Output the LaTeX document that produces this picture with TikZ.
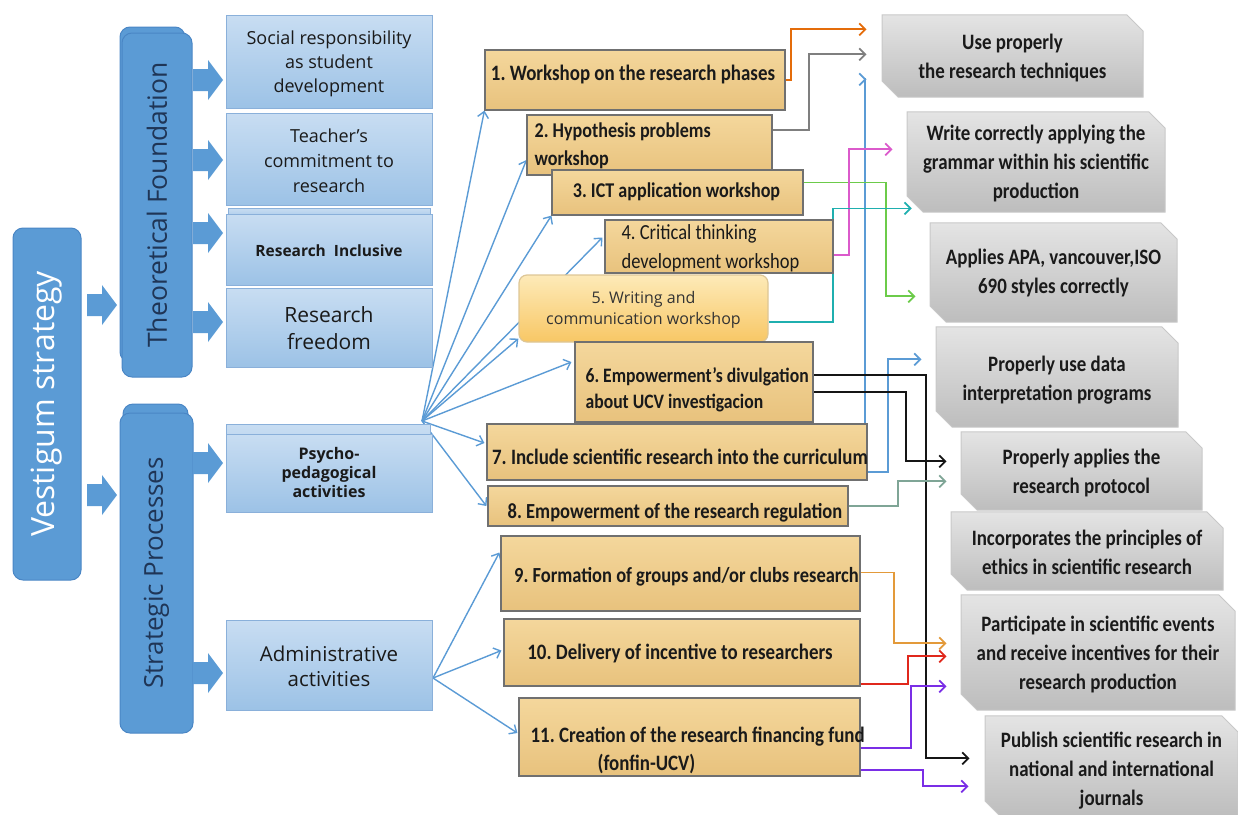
\documentclass[tikz,border=0pt]{standalone}
\usepackage{fontspec}
\setmainfont{Carlito}[FakeStretch=0.86]
\newfontfamily\osans{Open Sans}
\usetikzlibrary{shapes.misc,arrows.meta,fit,backgrounds,calc}
\frenchspacing
\definecolor{vblue}{HTML}{5B9BD5}
\definecolor{vblueD}{HTML}{4A86C5}
\definecolor{tfText}{HTML}{1F3556}
\definecolor{lbT}{HTML}{C8DDF2}
\definecolor{lbB}{HTML}{9CC2E6}
\definecolor{lbD}{HTML}{8AB0DA}
\definecolor{tanT}{HTML}{F4D79C}
\definecolor{tanB}{HTML}{E8C27D}
\definecolor{tanD}{HTML}{707070}
\definecolor{ylT}{HTML}{FDEAB8}
\definecolor{ylB}{HTML}{F8C765}
\definecolor{gT}{HTML}{E4E4E4}
\definecolor{gB}{HTML}{BDBDBD}
\definecolor{gD}{HTML}{C8C8C8}
\definecolor{txt}{HTML}{1A1A1A}
\definecolor{cOrange}{HTML}{E46C0A}
\definecolor{cGrey}{HTML}{7F7F7F}
\definecolor{cBlue}{HTML}{5B9BD5}
\definecolor{cPink}{HTML}{DB5ACB}
\definecolor{cGreen}{HTML}{6CCB4A}
\definecolor{cTeal}{HTML}{1FAFAF}
\definecolor{cBlack}{HTML}{151515}
\definecolor{cSage}{HTML}{7FA596}
\definecolor{cAmber}{HTML}{E39A3A}
\definecolor{cRed}{HTML}{E0281C}
\definecolor{cPurple}{HTML}{7A2EE6}
\newcommand\ns{\spaceskip=0pt\xspaceskip=0pt\relax}
\newcommand\barrow[2]{\fill[vblue] ({#1-15},{#2-11}) -- ({#1},{#2-11}) -- ({#1},{#2-20}) -- ({#1+15},{#2}) -- ({#1},{#2+20}) -- ({#1},{#2+11}) -- ({#1-15},{#2+11}) -- cycle;}
\begin{document}
\begin{tikzpicture}[x=1pt,y=-1pt,
  bigbox/.style={draw=vblueD, line width=1pt, fill=vblue, rounded corners=10pt, inner sep=0pt},
  lbox/.style={draw=lbD, line width=1pt, top color=lbT, bottom color=lbB, inner sep=0pt},
  ltext/.style={inner sep=0pt, align=center, text=txt, font=\osans\fontsize{18}{24}\selectfont},
  wbox/.style={draw=tanD, line width=1.2pt, top color=tanT, bottom color=tanB, inner sep=0pt},
  wtext/.style={inner sep=0pt, align=center, text=txt, font=\bfseries\fontsize{22}{28}\selectfont},
  obox/.style={chamfered rectangle, chamfered rectangle corners={north east,south west}, chamfered rectangle angle=45, chamfered rectangle xsep=13pt, draw=gD, line width=1pt, top color=gT, bottom color=gB, inner sep=0pt},
  otext/.style={inner sep=0pt, align=center, text=txt, font=\bfseries\fontsize{22}{29}\selectfont},
  conn/.style={line width=1.8pt, -{Straight Barb[length=6pt,width=12pt]}},
  fan/.style={draw=cBlue, line width=1.4pt, -{Straight Barb[length=6pt,width=11pt]}}]
\useasboundingbox (0,0) rectangle (1238,814);
% ---------- left column
\node[bigbox, fit={(13,228)(81,580)}] (vs) {};
\node[rotate=90, text=white, font=\osans\fontsize{32}{34}\selectfont] (vst) at (vs.center) {Vestigum strategy};
\node[bigbox, fit={(120,27)(185,362)}] (tfb) {};
\node[bigbox, fit={(122,33)(192,377)}] (tf) {};
\node[rotate=90, text=tfText, font=\osans\fontsize{26.5}{28}\selectfont] (tft) at (tf.center) {Theoretical Foundation};
\node[bigbox, fit={(123,404)(188,720)}] (spb) {};
\node[bigbox, fit={(120,413)(193,733)}] (sp) {};
\node[rotate=90, text=tfText, font=\osans\fontsize{26}{28}\selectfont] (spt) at (sp.center) {Strategic Processes};
\barrow{102}{305}
\barrow{102}{495}
\barrow{208}{80}
\barrow{208}{160}
\barrow{208}{233}
\barrow{208}{322}
\barrow{208}{463}
\barrow{208}{673}
% ---------- light blue boxes
\node[lbox, fit={(226,15)(432,108)}] (lb1) {};
\node[ltext] (lb1t) at ([yshift=-2pt]lb1.center) {Social responsibility\\as student\\development};
\node[lbox, fit={(226,113)(432,205)}] (lb2) {};
\node[ltext, font=\osans\fontsize{18}{25}\selectfont] (lb2t) at ([yshift=-2pt]lb2.center) {Teacher’s\\commitment to\\research};
\node[lbox, fit={(228,208)(430,222)}] (lb3b) {};
\node[lbox, fit={(226,214)(432,285)}] (lb3) {};
\node[ltext, font=\osans\bfseries\fontsize{15.5}{18}\selectfont] (lb3t) at ([yshift=-1pt]lb3.center) {Research\ \ Inclusive};
\node[lbox, fit={(226,288)(432,367)}] (lb4) {};
\node[ltext, font=\osans\fontsize{21}{27}\selectfont] (lb4t) at ([yshift=-1pt]lb4.center) {Research\\freedom};
\node[lbox, fit={(226,424)(430,506)}] (psyb) {};
\node[lbox, fit={(226,434)(432,512)}] (psy) {};
\node[ltext, font=\osans\bfseries\fontsize{16}{19}\selectfont] (psyt) at ([yshift=1pt]psy.center) {Psycho-\\pedagogical\\activities};
\node[lbox, fit={(226,620)(432,710)}] (adm) {};
\node[ltext, font=\osans\fontsize{20.5}{25}\selectfont] (admt) at ([yshift=-1.5pt]adm.center) {Administrative\\activities};
% ---------- workshop boxes
\node[wbox, fit={(485,50)(785,110)}] (w1) {};
\node[wtext] (w1t) at ([yshift=5pt,xshift=-2pt]w1.center) {1. Workshop on the research phases};
\node[wbox, fit={(527,115)(772,175)}] (w2) {};
\node[wtext, anchor=west, align=left, font=\bfseries\fontsize{21}{28}\selectfont] (w2t) at ([xshift=8pt,yshift=-1pt]w2.west) {\ns 2. Hypothesis problems\\workshop};
\node[wbox, fit={(552,170)(803,215)}] (w3) {};
\node[wtext, font=\bfseries\fontsize{21}{22}\selectfont] (w3t) at ([yshift=1pt,xshift=-1pt]w3.center) {3. ICT application workshop};
\node[wbox, fit={(605,220)(833,273)}] (w4) {};
\node[wtext, anchor=west, align=left, font=\fontsize{21.5}{29}\selectfont] (w4t) at ([xshift=17pt,yshift=-2pt]w4.west) {\ns 4. Critical thinking\\development workshop};
\node[wbox, fit={(519,275)(768,342)}, rounded corners=8pt, draw=ylB!80!black!60, top color=ylT, bottom color=ylB] (w5) {};
\node[wtext, font=\osans\fontsize{16}{21}\selectfont, text=black!80] (w5t) at ([yshift=-1pt]w5.center) {5. Writing and\\communication workshop};
\node[wbox, fit={(575,342)(813,422)}] (w6) {};
\node[wtext, anchor=west, align=left, font=\bfseries\fontsize{20.5}{26}\selectfont] (w6t) at ([xshift=11pt,yshift=-8pt]w6.west) {\ns 6. Empowerment's divulgation\\about UCV investigacion};
\node[wbox, fit={(487,424)(867,480)}] (w7) {};
\node[wtext] (w7t) at ([yshift=-5pt,xshift=3pt]w7.center) {7. Include scientific research into the curriculum};
\node[wbox, fit={(488,486)(848,526)}] (w8) {};
\node[wtext, font=\bfseries\fontsize{21.5}{24}\selectfont] (w8t) at ([yshift=-7pt,xshift=7pt]w8.center) {8. Empowerment of the research regulation};
\node[wbox, fit={(501,536)(860,611)}] (w9) {};
\node[wtext, font=\bfseries\fontsize{21.5}{24}\selectfont] (w9t) at ([yshift=-3pt,xshift=6pt]w9.center) {9. Formation of groups and/or clubs research};
\node[wbox, fit={(504,619)(860,686)}] (w10) {};
\node[wtext] (w10t) at ([yshift=-1pt,xshift=-2pt]w10.center) {10. Delivery of incentive to researchers};
\node[wbox, fit={(519,698)(860,776)}] (w11) {};
\node[wtext, anchor=west, align=left] (w11t) at ([xshift=12pt,yshift=-13pt]w11.west) {\ns 11. Creation of the research financing fund\\\hspace*{67pt}(fonfin-UCV)};
% ---------- outcome boxes
\node[obox, fit={(895,18)(1130,94)}] (o1) {};
\node[otext] (o1t) at ([yshift=-2pt]o1.center) {Use properly\\the research techniques};
\node[obox, fit={(920,115)(1152,209)}] (o2) {};
\node[otext] (o2t) at ([yshift=-2pt]o2.center) {Write correctly applying the\\grammar within his scientific\\production};
\node[obox, fit={(943,226)(1164,319)}] (o3) {};
\node[otext] (o3t) at ([yshift=-0.5pt]o3.center) {Applies APA, vancouver,ISO\\690 styles correctly};
\node[obox, fit={(949,330)(1165,424)}] (o4) {};
\node[otext] (o4t) at ([yshift=-3pt]o4.center) {Properly use data\\interpretation programs};
\node[obox, fit={(974,435)(1189,507)}] (o5) {};
\node[otext] (o5t) at ([yshift=-2pt]o5.center) {Properly applies the\\research protocol};
\node[obox, fit={(964,515)(1210,587)}] (o6) {};
\node[otext] (o6t) at ([yshift=-1pt]o6.center) {Incorporates the principles of\\ethics in scientific research};
\node[obox, fit={(974,598)(1222,707)}] (o7) {};
\node[otext] (o7t) at ([yshift=-1.5pt]o7.center) {Participate in scientific events\\and receive incentives for their\\research production};
\node[obox, fit={(998,719)(1225,814)}] (o8) {};
\node[otext] (o8t) at ([yshift=-4pt]o8.center) {Publish scientific research in\\national and international\\journals};
% ---------- connectors
\coordinate (pf) at (422,421);
\coordinate (af) at (433,678);
\begin{scope}[on background layer]
\draw[fan] (pf) -- (w1.south west);
\draw[fan] (pf) -- ([yshift=-15pt]w2.west);
\draw[fan] (pf) -- (w3.south west);
\draw[fan] (pf) -- ([yshift=9pt,xshift=-2pt]w4.west);
\draw[fan] (pf) -- ([yshift=4pt]w5.south west);
\draw[fan] (pf) -- ([yshift=20pt,xshift=-3pt]w6.west);
\draw[fan] (pf) -- ([yshift=9pt,xshift=-2pt]w7.west);
\draw[fan] (pf) -- ([xshift=-1pt]w8.west);
\draw[fan] (af) -- ([yshift=21pt,xshift=-1pt]w9.west);
\draw[fan] (af) -- ([yshift=2pt,xshift=-2pt]w10.west);
\draw[fan] (af) -- ([yshift=4pt,xshift=-1pt]w11.west);
\draw[conn, cOrange] (w1.east) -- ++(5,0) |- ([yshift=-15pt,xshift=-15pt]o1.north west);
\draw[conn, cGrey] ([yshift=15pt]w2.east) -- ++(36,0) |- ([yshift=-40pt,xshift=-15pt]o1.north west);
\draw[conn, cBlue] ([xshift=-3pt]w7.north east) |- ([yshift=-65pt,xshift=-15pt]o1.north west);
\draw[conn, cBlue] ([yshift=-20pt]w7.east) -- ++(20,0) |- ([yshift=-33pt,xshift=-14pt]o4.north west);
\draw[conn, cGreen] ([yshift=10pt]w3.east) -- ++(82,0) |- ([yshift=-74pt,xshift=-14pt]o3.north west);
\draw[conn, cPink] ([yshift=-8.5pt]w4.east) -- ++(15,0) |- ([yshift=-38pt,xshift=-14pt]o2.north west);
\draw[conn, cTeal] ([yshift=-13.5pt]w5.east) -- ++(64,0) |- ([xshift=-3pt,yshift=-4pt]o2.south west);
\draw[conn, cBlack] ([yshift=7pt]w6.east) -- ++(112,0) |- ([yshift=-43pt,xshift=-15pt]o8.north west);
\draw[conn, cBlack] ([yshift=-10pt]w6.east) -- ++(92,0) |- ([yshift=-30pt,xshift=-14pt]o5.north west);
\draw[conn, cSage] (w8.east) -- ++(49,0) |- ([yshift=-50pt,xshift=-14pt]o5.north west);
\draw[conn, cAmber] ([yshift=1pt]w9.east) -- ++(33,0) |- ([yshift=-49pt,xshift=-14pt]o7.north west);
\draw[conn, cRed] ([xshift=-8pt,yshift=3pt]w10.south east) -- ++(55,0) |- ([yshift=-62pt,xshift=-14pt]o7.north west);
\draw[conn, cPurple] ([yshift=-11pt]w11.east) -- ++(50,0) |- ([yshift=-92pt,xshift=-14pt]o7.north west);
\draw[conn, cPurple] ([yshift=-33pt]w11.east) -- ++(62,0) |- ([yshift=-71pt,xshift=-16pt]o8.north west);
\end{scope}
\end{tikzpicture}
\end{document}
